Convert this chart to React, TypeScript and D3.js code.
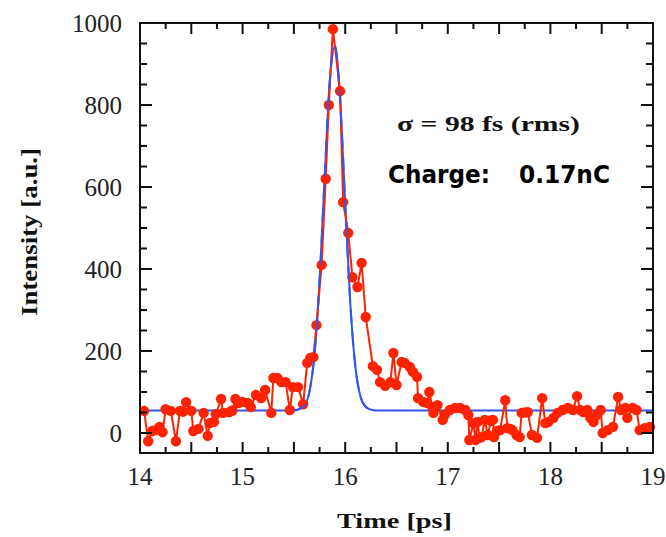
import React from "react";
import * as d3 from "d3";

const measTime = [14.04,14.08,14.12,14.15,14.19,14.22,14.25,14.30,14.35,14.39,14.42,14.45,14.50,14.52,14.57,14.62,14.66,14.68,14.72,14.74,14.79,14.81,14.87,14.90,14.93,14.96,15.00,15.05,15.08,15.13,15.18,15.22,15.28,15.30,15.34,15.38,15.42,15.46,15.49,15.54,15.59,15.63,15.66,15.69,15.72,15.77,15.81,15.84,15.88,15.95,15.98,16.03,16.07,16.12,16.16,16.20,16.27,16.31,16.34,16.39,16.44,16.47,16.50,16.55,16.58,16.63,16.66,16.70,16.71,16.76,16.80,16.82,16.85,16.86,16.90,16.95,16.97,17.02,17.07,17.12,17.17,17.20,17.21,17.25,17.27,17.29,17.31,17.33,17.36,17.39,17.42,17.44,17.45,17.48,17.51,17.56,17.58,17.61,17.63,17.67,17.70,17.72,17.75,17.78,17.82,17.87,17.92,17.95,17.98,18.03,18.07,18.12,18.17,18.22,18.26,18.29,18.32,18.36,18.39,18.42,18.45,18.49,18.51,18.56,18.61,18.66,18.69,18.73,18.75,18.80,18.84,18.87,18.92,18.97];
const measIntensity = [54,-20,5,7,15,2,58,54,-20,54,52,75,54,5,10,49,-7,24,27,46,83,49,51,55,83,73,76,73,63,93,85,105,49,134,134,124,124,56,112,112,70,171,183,185,263,410,620,800,985,834,563,488,380,356,415,283,163,154,124,115,124,195,117,173,171,161,149,137,85,76,73,100,63,49,68,32,44,56,61,61,56,44,-17,24,-17,27,-12,-10,32,-5,30,32,-10,5,7,80,12,10,7,-5,-10,49,50,51,-5,-12,85,24,27,37,49,56,61,56,90,56,51,56,37,27,44,56,0,7,15,88,56,61,37,61,56,7,12,15];

const fitTime = [14.0,15.5,15.6,15.65,15.7,15.75,15.8,15.85,15.9,15.95,16.0,16.05,16.1,16.15,16.2,16.25,16.3,19.0];
const fitIntensity = [55,55,66,99,190,370,625,860,944,815,560,315,160,88,64,57,55,55];

const xTickLabels = [14,15,16,17,18,19];
const yTickLabels = [0,200,400,600,800,1000];

export default function App() {
  const W = 666, H = 537;
  const left = 140, right = 653, top = 23, bottom = 453;
  const x = d3.scaleLinear().domain([14, 19]).range([left, right]);
  const y = d3.scaleLinear().domain([0, 1000]).range([433, top]);

  const measData = measTime.map((t, i) => [t, measIntensity[i]] as [number, number]);
  const fitData = fitTime.map((t, i) => [t, fitIntensity[i]] as [number, number]);

  const lineRed = d3.line<[number, number]>().x(d => x(d[0])).y(d => y(d[1]));
  const lineBlue = d3.line<[number, number]>().x(d => x(d[0])).y(d => y(d[1])).curve(d3.curveMonotoneX);

  const xMinor = d3.range(14, 19.001, 0.25);
  const yMinor = d3.range(0, 1000.1, 50);

  const serif = "'Liberation Serif', 'Times New Roman', serif";
  const tickColor = "#111";
  const red = "#ff2200";

  return (
    <svg width={W} height={H} style={{ position: "absolute", left: 0, top: 0, background: "#fff" }}>
      <rect x={0} y={0} width={W} height={H} fill="#fff" />
      <path d={lineBlue(fitData) || ""} fill="none" stroke="#3355ee" strokeWidth={2} />
      <path d={lineRed(measData) || ""} fill="none" stroke={red} strokeWidth={2} />
      {measData.map((d, i) => (
        <circle key={i} cx={x(d[0])} cy={y(d[1])} r={5.2} fill={red} />
      ))}
      <path d={lineBlue(fitData.slice(1, 17)) || ""} fill="none" stroke="#3355ee" strokeWidth={2} strokeDasharray="14 8" />

      <rect x={left} y={top} width={right - left} height={bottom - top} fill="none" stroke={tickColor} strokeWidth={2} />
      {xMinor.map((t, i) => {
        const major = Math.abs(t * 2 - Math.round(t * 2)) < 1e-6;
        const len = major ? 11 : 6;
        return (
          <g key={"xt" + i}>
            <line x1={x(t)} x2={x(t)} y1={bottom} y2={bottom - len} stroke={tickColor} strokeWidth={2} />
            <line x1={x(t)} x2={x(t)} y1={top} y2={top + len} stroke={tickColor} strokeWidth={2} />
          </g>
        );
      })}
      {yMinor.map((v, i) => {
        const major = v % 200 === 0;
        const len = major ? 12 : 7;
        return (
          <g key={"yt" + i}>
            <line x1={left} x2={left + len} y1={y(v)} y2={y(v)} stroke={tickColor} strokeWidth={2} />
            <line x1={right} x2={right - len} y1={y(v)} y2={y(v)} stroke={tickColor} strokeWidth={2} />
          </g>
        );
      })}
      {xTickLabels.map((t) => (
        <text key={"xl" + t} x={x(t)} y={485} textAnchor="middle" fontFamily={serif} fontSize={25} fill="#222">
          {t}
        </text>
      ))}
      {yTickLabels.map((v) => (
        <text key={"yl" + v} x={122} y={y(v)} dy="0.34em" textAnchor="end" fontFamily={serif} fontSize={25} fill="#222">
          {v}
        </text>
      ))}

      <text x={337} y={528} fontFamily={serif} fontWeight="bold" fontSize={22} textLength={115} lengthAdjust="spacingAndGlyphs" fill="#111">
        Time [ps]
      </text>
      <text transform="translate(37,316) rotate(-90)" x={0} y={0} fontFamily={serif} fontWeight="bold" fontSize={24} textLength={168} lengthAdjust="spacingAndGlyphs" fill="#111">
        Intensity [a.u.]
      </text>
      <text x={397} y={131} fontFamily={serif} fontWeight="bold" fontSize={21} textLength={183} lengthAdjust="spacingAndGlyphs" fill="#111">
        σ = 98 fs (rms)
      </text>
      <text x={388} y={183} fontFamily="'DejaVu Sans', Verdana, sans-serif" fontWeight="bold" fontSize={24} textLength={102} lengthAdjust="spacingAndGlyphs" fill="#000">
        Charge:
      </text>
      <text x={519} y={183} fontFamily="'DejaVu Sans', Verdana, sans-serif" fontWeight="bold" fontSize={24} textLength={91} lengthAdjust="spacingAndGlyphs" fill="#000">
        0.17nC
      </text>
    </svg>
  );
}
